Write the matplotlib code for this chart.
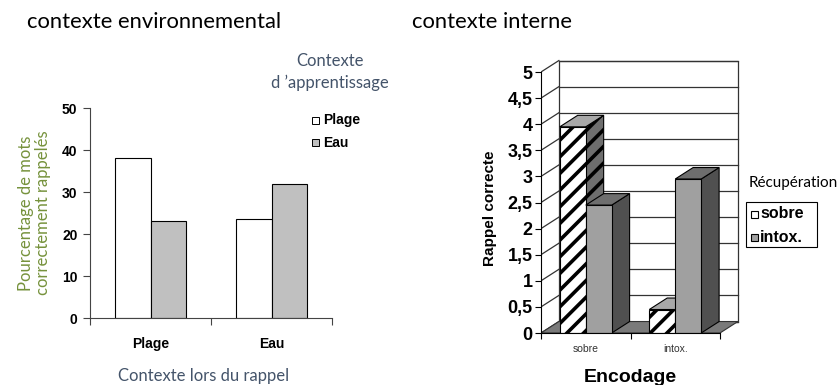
import numpy as np
import matplotlib
matplotlib.use("Agg")
import matplotlib.pyplot as plt
from matplotlib.patches import Polygon, Rectangle

# Données - contexte environnemental (Godden & Baddeley)
rappel_cats = ["Plage", "Eau"]
appr_labels = ["Plage", "Eau"]
pct_plage = [38, 23.6]   # appris sur la plage
pct_eau = [23, 32]       # appris sous l'eau

# Données - contexte interne
enc_cats = ["sobre", "intox."]
recup_labels = ["sobre", "intox."]
rappel_sobre = [3.95, 0.45]
rappel_intox = [2.45, 2.95]
y_ticks = np.arange(0, 5.01, 0.5)

plt.rcParams['hatch.linewidth'] = 2.6
calibri = ['Lato', 'DejaVu Sans']
arial = ['Liberation Sans', 'DejaVu Sans']
slate = '#44546a'

fig = plt.figure(figsize=(8.4, 3.85), dpi=100)
fig.text(27 / 840, 1 - 22 / 385, "contexte environnemental", family=calibri,
         fontsize=15.8, ha='left', va='center')
fig.text(412 / 840, 1 - 22 / 385, "contexte interne", family=calibri,
         fontsize=15.8, ha='left', va='center')

# ---------------- gauche : barres 2D ----------------
ax1 = fig.add_axes([90 / 840, 67 / 385, 242 / 840, 210 / 385])
w = 0.29
x = np.arange(len(rappel_cats)) + 0.5
ax1.bar(x - w / 2, pct_plage, w, color='white', edgecolor='black', lw=0.8)
ax1.bar(x + w / 2, pct_eau, w, color='#c0c0c0', edgecolor='black', lw=0.8)
ax1.set_xlim(0, 2)
ax1.set_ylim(0, 50)
for s in ['top', 'right']:
    ax1.spines[s].set_visible(False)
for s in ['left', 'bottom']:
    ax1.spines[s].set_color('#444444')
ax1.set_yticks(range(0, 51, 10))
ax1.set_yticklabels([str(v) for v in range(0, 51, 10)], family=arial,
                    fontweight='bold', fontsize=10)
ax1.set_xticks([0, 1, 2])
ax1.set_xticklabels([])
ax1.set_xticks(x, minor=True)
ax1.set_xticklabels(rappel_cats, minor=True, family=arial, fontweight='bold',
                    fontsize=10)
ax1.tick_params(axis='x', which='minor', length=0, pad=14)
ax1.tick_params(axis='both', which='major', length=5, color='#444444')
ax1.tick_params(axis='y', pad=4)
ax1.set_ylabel("Pourcentage de mots\ncorrectement rappelés", family=calibri,
               fontsize=12, color='#76923c', labelpad=8, linespacing=1.1)
fig.text(204 / 840, 1 - 376 / 385, "Contexte lors du rappel", family=calibri,
         fontsize=12, color=slate, ha='center', va='center')
fig.text(330 / 840, 1 - 72 / 385, "Contexte\nd \u2019apprentissage", family=calibri,
         fontsize=12, color=slate, ha='center', va='center', linespacing=1.35)
# légende
for i, (lab, col) in enumerate(zip(appr_labels, ['white', '#c0c0c0'])):
    yc = 1 - (120 + 23 * i) / 385
    fig.patches.append(Rectangle((312 / 840, yc - 3.5 / 385), 7 / 840, 7 / 385,
                                 transform=fig.transFigure, facecolor=col,
                                 edgecolor='black', lw=0.7))
    fig.text(323 / 840, yc, lab, family=arial, fontweight='bold', fontsize=10,
             ha='left', va='center')

# ---------------- droite : barres pseudo-3D ----------------
dx, dy = 0.2, 0.22
ax2 = fig.add_axes([541 / 840, 52 / 385, 2.22 * 89.5 / 840, 5.25 * 52.2 / 385])
ax2.set_xlim(0, 2.22)
ax2.set_ylim(0, 5.25)
for s in ['top', 'right']:
    ax2.spines[s].set_visible(False)
ax2.spines['left'].set_bounds(0, 5)
ax2.spines['bottom'].set_bounds(0, 2)
ax2.spines['left'].set_zorder(5)
ax2.spines['bottom'].set_zorder(5)

gc = '#333333'
# mur du fond + grille
ax2.add_patch(Rectangle((dx, dy), 2, 5, facecolor='white', edgecolor=gc, lw=0.9,
                        zorder=1))
for v in y_ticks:
    ax2.plot([dx, 2 + dx], [v + dy, v + dy], color=gc, lw=0.9, zorder=1)
    ax2.plot([0, dx], [v, v + dy], color=gc, lw=0.9, zorder=1)
# sol
ax2.add_patch(Polygon([(0, 0), (2, 0), (2 + dx, dy), (dx, dy)], closed=True,
                      facecolor='#7a7a7a', edgecolor=gc, lw=0.8, zorder=2))


def bar3d(ax, x0, width, h, front, side, top, hatch=None):
    kw = dict(closed=True, edgecolor='black', lw=0.8, zorder=3)
    ax.add_patch(Polygon([(x0 + width, 0), (x0 + width + dx, dy),
                          (x0 + width + dx, h + dy), (x0 + width, h)],
                         facecolor=side, hatch=hatch, **kw))
    ax.add_patch(Polygon([(x0, h), (x0 + width, h), (x0 + width + dx, h + dy),
                          (x0 + dx, h + dy)], facecolor=top, **kw))
    ax.add_patch(Polygon([(x0, 0), (x0 + width, 0), (x0 + width, h), (x0, h)],
                         facecolor=front, hatch=hatch, **kw))


bw = 0.29
for i in range(len(enc_cats)):
    bar3d(ax2, i + 0.21, bw, rappel_sobre[i], 'white', '#6e6e6e', '#a8a8a8',
          hatch='//')
    bar3d(ax2, i + 0.21 + bw, bw, rappel_intox[i], '#a0a0a0', '#505050',
          '#6e6e6e')

ax2.set_yticks(y_ticks)
ax2.set_yticklabels([f"{v:g}".replace('.', ',') for v in y_ticks], family=arial,
                    fontweight='bold', fontsize=13)
ax2.set_xticks([0, 1, 2])
ax2.set_xticklabels([])
ax2.set_xticks(np.arange(len(enc_cats)) + 0.5, minor=True)
ax2.set_xticklabels(enc_cats, minor=True, family=arial, fontsize=7.5,
                    color='#333333')
ax2.tick_params(axis='x', which='minor', length=0, pad=8)
ax2.tick_params(axis='both', which='major', length=4, pad=2)
ax2.set_ylabel("Rappel correcte", family=arial, fontweight='bold', fontsize=11)
ax2.yaxis.set_label_coords(-44 / 198.7, 125 / 274)
fig.text(630 / 840, 1 - 377 / 385, "Encodage", family=arial, fontweight='bold',
         fontsize=14, ha='center', va='center')

# légende
fig.text(749 / 840, 1 - 183 / 385, "Récupération", family=calibri, fontsize=11,
         ha='left', va='center')
fig.patches.append(Rectangle((746 / 840, 1 - 247 / 385), 71 / 840, 45 / 385,
                             transform=fig.transFigure, facecolor='white',
                             edgecolor='black', lw=0.8))
for i, (lab, col) in enumerate(zip(recup_labels, ['white', '#a0a0a0'])):
    yc = 1 - (214 + 23 * i) / 385
    fig.patches.append(Rectangle((751 / 840, yc - 3.5 / 385), 7 / 840, 7 / 385,
                                 transform=fig.transFigure, facecolor=col,
                                 edgecolor='black', lw=0.8))
    fig.text(760 / 840, yc, lab, family=arial, fontweight='bold', fontsize=11.5,
             ha='left', va='center')

fig.savefig("out.png", dpi=100)
